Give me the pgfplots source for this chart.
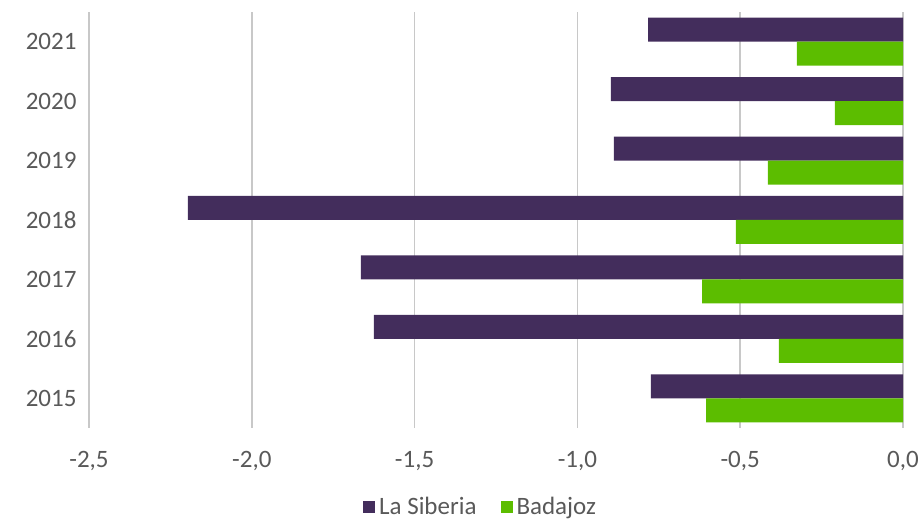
\documentclass[border=0pt]{standalone}
\usepackage{fontspec}
\setmainfont{Carlito}
\usepackage{pgfplots}
\pgfplotsset{compat=1.18}
\definecolor{siberia}{HTML}{432D5C}
\definecolor{badajoz}{HTML}{5CBD00}
\definecolor{gridc}{HTML}{C8C8C8}
\definecolor{labc}{HTML}{595959}

\begin{document}
\begin{tikzpicture}
\useasboundingbox (0pt,0pt) rectangle (918pt,521pt);
\begin{axis}[
    at={(89pt,93pt)}, anchor=south west,
    scale only axis,
    width=814pt, height=416pt,
    xbar, bar width=24pt,
    xmin=-2.5, xmax=0,
    ymin=-0.5, ymax=6.5,
    xtick={-2.5,-2,-1.5,-1,-0.5,0},
    ytick={0,...,6},
    yticklabels={2015,2016,2017,2018,2019,2020,2021},
    xmajorgrids, major grid style={gridc, line width=1.6pt},
    axis line style={draw=none},
    major tick length=0pt,
    tick label style={font=\fontsize{25}{28}\selectfont, text=labc},
    /pgf/number format/assume math mode=true,
    /pgf/number format/use comma,
    /pgf/number format/fixed,
    /pgf/number format/fixed zerofill,
    /pgf/number format/precision=1,
    xticklabel style={yshift=-20pt},
    yticklabel style={xshift=-9pt},
    legend style={at={(0.481,-0.19)}, anchor=center, draw=none,
        legend columns=-1, font=\fontsize{25}{28}\selectfont, text=labc,
        /tikz/every odd column/.append style={column sep=2pt},
        /tikz/every even column/.append style={column sep=22pt}},
    legend image code/.code={\fill[#1] (0pt,-6pt) rectangle (12pt,6pt);},
]
\addplot[fill=siberia, draw=none, bar shift=12pt] coordinates {
    (-0.774,0) (-1.625,1) (-1.665,2) (-2.196,3) (-0.888,4) (-0.897,5) (-0.783,6)};
\addplot[fill=badajoz, draw=none, bar shift=-12pt] coordinates {
    (-0.605,0) (-0.381,1) (-0.617,2) (-0.513,3) (-0.415,4) (-0.209,5) (-0.326,6)};
\legend{La Siberia, Badajoz}
\end{axis}
\end{tikzpicture}
\end{document}
